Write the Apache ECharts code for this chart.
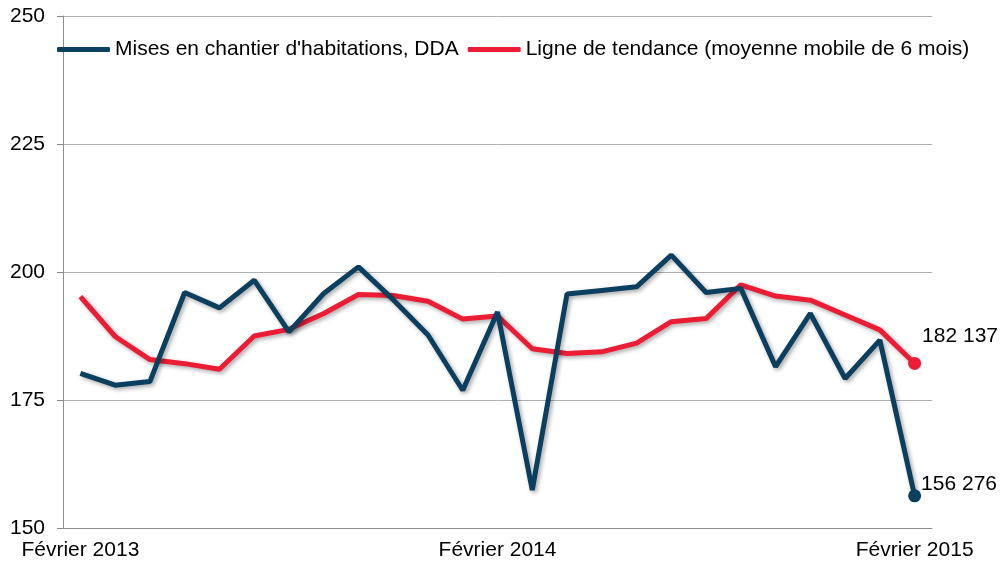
<!DOCTYPE html>
<html>
<head>
<meta charset="utf-8">
<script src="https://cdn.jsdelivr.net/npm/echarts@6/dist/echarts.min.js"></script>
<style>
  html, body { margin: 0; padding: 0; background: #fff; }
  #box { width: 1007px; height: 569px; }
</style>
</head>
<body>
<div id="box"></div>
<script>
  const months = [
    'Février 2013', 'Mars 2013', 'Avril 2013', 'Mai 2013', 'Juin 2013', 'Juillet 2013',
    'Août 2013', 'Septembre 2013', 'Octobre 2013', 'Novembre 2013', 'Décembre 2013', 'Janvier 2014',
    'Février 2014', 'Mars 2014', 'Avril 2014', 'Mai 2014', 'Juin 2014', 'Juillet 2014',
    'Août 2014', 'Septembre 2014', 'Octobre 2014', 'Novembre 2014', 'Décembre 2014', 'Janvier 2015',
    'Février 2015',
  ];
  // milliers d'unités
  const miseEnChantier = [
    180.2, 177.9, 178.6, 196.0, 193.0, 198.4, 188.3, 195.8, 201.0, 194.6, 187.7, 176.9,
    192.2, 157.4, 195.7, 196.4, 197.1, 203.3, 196.0, 196.8, 181.5, 191.9, 179.2, 186.7,
    156.276,
  ];
  const tendance = [
    195.2, 187.4, 182.9, 182.1, 181.0, 187.5, 188.8, 191.9, 195.6, 195.4, 194.3, 190.8,
    191.4, 185.0, 184.1, 184.4, 186.1, 190.3, 190.9, 197.5, 195.3, 194.5, 191.6, 188.7,
    182.137,
  ];
  const yTicks = { min: 150, max: 250, interval: 25 };

  const BLUE = '#0b3f60';
  const RED = '#ec1c35';
  const FONT = 21;
  const shadow = {
    shadowColor: 'rgba(0,0,0,0.35)',
    shadowBlur: 4,
    shadowOffsetX: 2,
    shadowOffsetY: 2,
  };

  function fmt(v) {
    return String(Math.round(v * 1000)).replace(/\B(?=(\d{3})+(?!\d))/g, ' ');
  }

  // only the last point gets a marker and a label
  function withEndLabel(values, offset) {
    const last = values.length - 1;
    return values.map((v, i) => {
      if (i !== last) return { value: v, symbolSize: 0 };
      return {
        value: v,
        symbolSize: 13,
        label: {
          show: true,
          position: 'right',
          distance: 0,
          offset: offset,
          formatter: (p) => fmt(p.value),
          color: '#000',
          fontSize: FONT,
          fontFamily: 'Liberation Sans, Arial, sans-serif',
        },
      };
    });
  }

  const chart = echarts.init(document.getElementById('box'));
  chart.setOption({
    animation: false,
    textStyle: { fontFamily: 'Liberation Sans, Arial, sans-serif' },
    grid: { left: 63, right: 75, top: 16, bottom: 41 },
    legend: {
      left: 57,
      top: 39,
      padding: 0,
      itemWidth: 53,
      itemHeight: 5,
      itemGap: 9,
      icon: 'roundRect',
      textStyle: { color: '#000', fontSize: FONT },
      data: [
        'Mises en chantier d\'habitations, DDA',
        'Ligne de tendance (moyenne mobile de 6 mois)',
      ],
    },
    xAxis: {
      type: 'category',
      data: months,
      boundaryGap: true,
      axisLine: { lineStyle: { color: '#8c8c8c', width: 1 } },
      axisTick: { show: false },
      axisLabel: {
        interval: (i) => i % 12 === 0,
        color: '#000',
        fontSize: FONT,
        margin: 12,
      },
    },
    yAxis: {
      type: 'value',
      min: yTicks.min,
      max: yTicks.max,
      interval: yTicks.interval,
      axisLine: { show: true, lineStyle: { color: '#8c8c8c', width: 1 } },
      axisTick: { show: true, length: 6, lineStyle: { color: '#8c8c8c' } },
      splitLine: { lineStyle: { color: '#b0b0b0', width: 1 } },
      axisLabel: { color: '#000', fontSize: FONT, margin: 18 },
    },
    series: [
      {
        name: 'Mises en chantier d\'habitations, DDA',
        type: 'line',
        symbol: 'circle',
        data: withEndLabel(miseEnChantier, [0, -12]),
        itemStyle: { color: BLUE },
        lineStyle: Object.assign({ color: BLUE, width: 5 }, shadow),
        z: 3,
      },
      {
        name: 'Ligne de tendance (moyenne mobile de 6 mois)',
        type: 'line',
        symbol: 'circle',
        data: withEndLabel(tendance, [1, -27]),
        itemStyle: { color: RED },
        lineStyle: Object.assign({ color: RED, width: 5 }, shadow),
        z: 2,
      },
    ],
  });
</script>
</body>
</html>
